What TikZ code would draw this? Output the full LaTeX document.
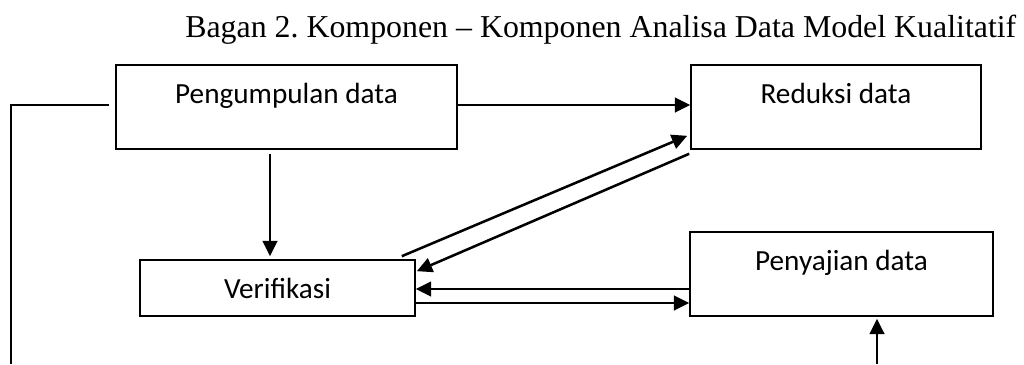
\documentclass[tikz,border=0pt]{standalone}
\usepackage{fontspec}
\setmainfont{Liberation Serif}
\newfontfamily\boxfont{Carlito}
\usetikzlibrary{arrows.meta,calc}
\frenchspacing
\begin{document}
\begin{tikzpicture}[x=0.75pt,y=-0.75pt,
  stagebox/.style={draw,line width=1.2pt,inner sep=0pt,align=center,
    font=\boxfont\fontsize{21.9}{24}\selectfont,text height=28.5pt},
  flow/.style={line width=1.9pt,-{Triangle[length=11.5pt,width=11pt]}},
  plain/.style={line width=1.3pt}]
\useasboundingbox (0,0) rectangle (1024,364);

% title
\node[anchor=base west,inner sep=0pt,font=\fontsize{23.9}{26}\selectfont] (title) at (185,37)
  {Bagan 2. Komponen -- Komponen Analisa Data Model Kualitatif};

% the four stages
\node[stagebox,minimum width=255.75pt,text depth=34.5pt] (pg) at (286.5,107) {Pengumpulan data};
\node[stagebox,minimum width=217.5pt,text depth=34.5pt] (red) at (836,107) {Reduksi data};
\node[stagebox,minimum width=206.25pt,text depth=13.5pt] (ver) at (277.5,288) {Verifikasi};
\node[stagebox,minimum width=227.25pt,text depth=34.5pt] (pen) at (841.5,274) {Penyajian data};

% loose ends leaving the page
\coordinate (lb) at (11,364);
\coordinate (pb) at (877,364);

% connectors
\draw[plain] ($(pg.west)+(-6,-2)$) -| (lb);
\draw[flow] ($(pg.east)+(0,-2)$) -- ($(red.west)+(0,-2)$);
\draw[flow] ($(pg.south)+(-16.5,4)$) -- ($(ver.north)+(-7.5,-3)$);
\draw[flow] ($(ver.north east)+(-14,-3)$) -- ($(red.south west)+(-3,-14)$);
\draw[flow] ($(red.south west)+(-1,4)$) -- ($(ver.north east)+(1,12)$);
\draw[flow] ($(pen.west)+(0,15)$) -- ($(ver.east)+(0,1)$);
\draw[flow] ($(ver.east)+(0,15)$) -- ($(pen.west)+(0,29)$);
\draw[flow] (pb) -- ($(pen.south)+(35.5,2)$);
\end{tikzpicture}
\end{document}
